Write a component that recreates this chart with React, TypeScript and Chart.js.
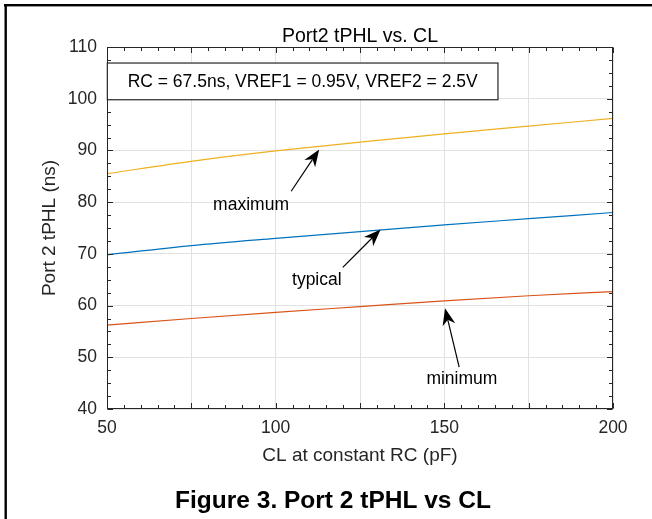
import React, { useEffect, useRef } from "react";
import { Chart, registerables } from "chart.js";

Chart.register(...registerables);

// ---------- data ----------
const clValues = [50, 75, 100, 125, 150, 175, 200];
const maximumNs = [85.5, 87.9, 89.9, 91.6, 93.2, 94.7, 96.2];
const typicalNs = [69.8, 71.6, 73.0, 74.3, 75.6, 76.8, 78.0];
const minimumNs = [56.2, 57.5, 58.7, 59.8, 60.9, 61.9, 62.7];
const xTickLabels = [50, 100, 150, 200];
const yTickLabels = [40, 50, 60, 70, 80, 90, 100, 110];

const chartTitle = "Port2 tPHL vs. CL";
const xTitle = "CL at constant RC (pF)";
const yTitle = "Port 2 tPHL (ns)";
const boxText = "RC = 67.5ns, VREF1 = 0.95V, VREF2 = 2.5V";
const caption = "Figure 3. Port 2 tPHL vs CL";

// curve annotation (label + arrow) positions, in data units
const curveNotes = [
  { text: "maximum", x: 92.7, y: 78.4, tailX: 104.6, tailY: 82.1, headX: 112.9, headY: 90.2 },
  { text: "typical", x: 112.2, y: 63.9, tailX: 119.9, tailY: 67.4, headX: 131.1, headY: 74.7 },
  { text: "minimum", x: 155.2, y: 44.8, tailX: 154.4, tailY: 48.1, headX: 150.2, headY: 59.5 },
];
// info box extent, in data units
const infoBox = { x0: 50.1, x1: 165.9, y0: 99.8, y1: 106.9 };

const FONT = "'Liberation Sans', Arial, Helvetica, sans-serif";
const AXIS_COLOR = "#262626";
const GRID_COLOR = "#e2e2e2";

function drawArrow(ctx: CanvasRenderingContext2D, x1: number, y1: number, x2: number, y2: number) {
  const ang = Math.atan2(y2 - y1, x2 - x1);
  const ux = Math.cos(ang), uy = Math.sin(ang);
  const nx = -uy, ny = ux;
  const L = 17, W = 6.5, N = 5;
  ctx.beginPath();
  ctx.moveTo(x1, y1);
  ctx.lineTo(x2 - ux * (L - N), y2 - uy * (L - N));
  ctx.lineWidth = 1.2;
  ctx.strokeStyle = "#000";
  ctx.stroke();
  ctx.beginPath();
  ctx.moveTo(x2, y2);
  ctx.lineTo(x2 - ux * L + nx * W, y2 - uy * L + ny * W);
  ctx.lineTo(x2 - ux * (L - N), y2 - uy * (L - N));
  ctx.lineTo(x2 - ux * L - nx * W, y2 - uy * L - ny * W);
  ctx.closePath();
  ctx.fillStyle = "#000";
  ctx.fill();
}

const decorPlugin = {
  id: "decor",
  afterDraw(chart: any) {
    const { ctx, chartArea: a, scales } = chart;
    const xs = scales.x, ys = scales.y;
    ctx.save();

    // outer frame (top + left)
    ctx.fillStyle = "#000";
    ctx.fillRect(4, 4, 652, 2.4);
    ctx.fillRect(4.5, 4, 2.4, 519);

    // axes box
    const L = Math.round(a.left) + 0.5, R = Math.round(a.right) - 0.5;
    const T = Math.round(a.top) + 0.5, B = Math.round(a.bottom) - 0.5;
    ctx.strokeStyle = AXIS_COLOR;
    ctx.lineWidth = 1;
    ctx.strokeRect(L, T, R - L, B - T);

    // inward ticks on all four sides
    ctx.beginPath();
    for (let v = 50; v <= 200; v += 5) {
      const px = Math.round(xs.getPixelForValue(v)) + 0.5;
      const len = v % 25 === 0 ? 5.5 : 3.5;
      ctx.moveTo(px, B); ctx.lineTo(px, B - len);
      ctx.moveTo(px, T); ctx.lineTo(px, T + len);
    }
    for (let v = 40; v <= 110; v += 2.5) {
      const py = Math.round(ys.getPixelForValue(v)) + 0.5;
      const len = v % 10 === 0 ? 5.5 : 3.5;
      ctx.moveTo(L, py); ctx.lineTo(L + len, py);
      ctx.moveTo(R, py); ctx.lineTo(R - len, py);
    }
    ctx.stroke();

    // title
    ctx.fillStyle = "#000";
    ctx.font = `19.5px ${FONT}`;
    ctx.textAlign = "center";
    ctx.textBaseline = "alphabetic";
    ctx.fillText(chartTitle, (a.left + a.right) / 2, 41.5);

    // info box
    const bx0 = xs.getPixelForValue(infoBox.x0), bx1 = xs.getPixelForValue(infoBox.x1);
    const by0 = ys.getPixelForValue(infoBox.y1), by1 = ys.getPixelForValue(infoBox.y0);
    ctx.fillStyle = "#fff";
    ctx.fillRect(bx0, by0, bx1 - bx0, by1 - by0);
    ctx.strokeStyle = AXIS_COLOR;
    ctx.lineWidth = 1.2;
    ctx.strokeRect(bx0, by0, bx1 - bx0, by1 - by0);
    ctx.fillStyle = "#000";
    ctx.font = `17.5px ${FONT}`;
    ctx.textAlign = "center";
    ctx.textBaseline = "middle";
    ctx.fillText(boxText, (bx0 + bx1) / 2, (by0 + by1) / 2 + 1);

    // curve notes
    ctx.textBaseline = "alphabetic";
    for (const n of curveNotes) {
      ctx.fillStyle = "#000";
      ctx.font = `17.5px ${FONT}`;
      ctx.textAlign = "center";
      ctx.fillText(n.text, xs.getPixelForValue(n.x), ys.getPixelForValue(n.y));
      drawArrow(
        ctx,
        xs.getPixelForValue(n.tailX), ys.getPixelForValue(n.tailY),
        xs.getPixelForValue(n.headX), ys.getPixelForValue(n.headY)
      );
    }

    // caption
    ctx.fillStyle = "#000";
    ctx.font = `bold 24.5px ${FONT}`;
    ctx.textAlign = "center";
    ctx.textBaseline = "alphabetic";
    ctx.fillText(caption, 333, 507.5);

    ctx.restore();
  },
};

export default function App() {
  const canvasRef = useRef<HTMLCanvasElement | null>(null);

  useEffect(() => {
    const canvas = canvasRef.current;
    if (!canvas) return;
    const mk = (vals: number[]) => clValues.map((x, i) => ({ x, y: vals[i] }));
    const chart = new Chart(canvas, {
      type: "line",
      data: {
        datasets: [
          { label: "maximum", data: mk(maximumNs), borderColor: "#EDB120", borderWidth: 1.2, pointRadius: 0, cubicInterpolationMode: "monotone" },
          { label: "typical", data: mk(typicalNs), borderColor: "#0072BD", borderWidth: 1.2, pointRadius: 0, cubicInterpolationMode: "monotone" },
          { label: "minimum", data: mk(minimumNs), borderColor: "#D95319", borderWidth: 1.2, pointRadius: 0, cubicInterpolationMode: "monotone" },
        ],
      },
      options: {
        animation: false,
        responsive: false,
        devicePixelRatio: 1,
        layout: { padding: { top: 47, right: 39, left: 0, bottom: 0 } },
        plugins: { legend: { display: false }, tooltip: { enabled: false }, title: { display: false } },
        scales: {
          x: {
            type: "linear",
            min: 50,
            max: 200,
            afterFit: (s: any) => { s.height = 110; },
            afterBuildTicks: (s: any) => {
              const t = [];
              for (let v = 50; v <= 200; v += 25) t.push({ value: v });
              s.ticks = t;
            },
            ticks: {
              autoSkip: false,
              maxRotation: 0,
              padding: 9,
              color: AXIS_COLOR,
              font: { family: FONT, size: 17.5 },
              callback: (v: any) => (xTickLabels.includes(Number(v)) ? String(v) : ""),
            },
            grid: { color: GRID_COLOR, lineWidth: 1, drawTicks: false },
            border: { display: false },
            title: {
              display: true,
              text: xTitle,
              color: AXIS_COLOR,
              font: { family: FONT, size: 19 },
              padding: { top: 0, bottom: 52 },
            },
          },
          y: {
            type: "linear",
            min: 40,
            max: 110,
            afterFit: (s: any) => { s.width = 107; },
            afterBuildTicks: (s: any) => {
              s.ticks = yTickLabels.map((v) => ({ value: v }));
            },
            ticks: {
              autoSkip: false,
              padding: 10,
              color: AXIS_COLOR,
              font: { family: FONT, size: 17.5 },
              callback: (v: any) => String(v),
            },
            grid: { color: GRID_COLOR, lineWidth: 1, drawTicks: false },
            border: { display: false },
            title: {
              display: true,
              text: yTitle,
              color: AXIS_COLOR,
              font: { family: FONT, size: 19 },
              padding: { top: 38, bottom: 0 },
            },
          },
        },
      },
      plugins: [decorPlugin],
    } as any);
    return () => chart.destroy();
  }, []);

  return (
    <div style={{ position: "absolute", left: 0, top: 0, width: 652, height: 519, background: "#fff" }}>
      <canvas ref={canvasRef} width={652} height={519} style={{ display: "block", width: 652, height: 519 }} />
    </div>
  );
}
